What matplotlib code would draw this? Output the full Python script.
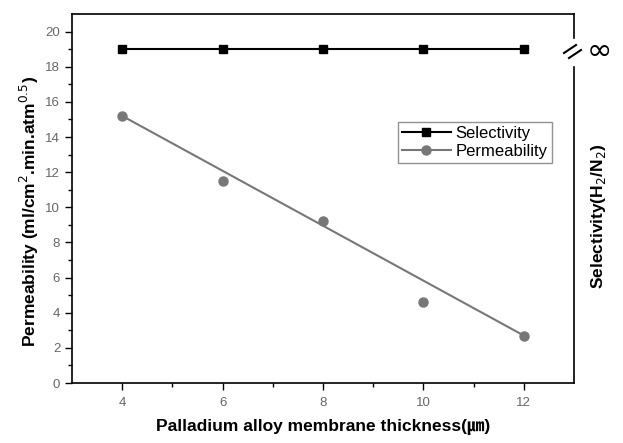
import matplotlib.pyplot as plt
from matplotlib.lines import Line2D

thickness = [4, 6, 8, 10, 12]
selectivity = [19, 19, 19, 19, 19]
permeability = [15.2, 11.5, 9.2, 4.6, 2.7]
fit_x = [4, 12]
fit_y = [15.2, 2.7]

plt.rcParams['font.family'] = ['Liberation Sans', 'Noto Sans CJK KR', 'DejaVu Sans']

W, H = 623, 443
fig = plt.figure(figsize=(W / 100, H / 100), dpi=100)
ax = fig.add_axes([72 / W, (H - 383) / H, (574 - 72) / W, (383 - 14) / H])


def px(x, y):
    return x / W, (H - y) / H


ax.plot(thickness, selectivity, color='black', lw=1.5, marker='s', ms=6,
        label='Selectivity')
ax.plot(fit_x, fit_y, color='#777777', lw=1.5)
ax.plot(thickness, permeability, color='#777777', lw=0, marker='o', ms=6.5)
# legend proxy for the gray line + marker
ax.plot([], [], color='#777777', lw=1.5, marker='o', ms=6.5, label='Permeability')

ax.set_xlim(3, 13)
ax.set_ylim(0, 21)
ax.set_xticks([4, 6, 8, 10, 12])
ax.set_xticks([5, 7, 9, 11], minor=True)
ax.set_yticks(range(0, 21, 2))
ax.set_yticks(range(1, 21, 2), minor=True)
ax.tick_params(which='both', direction='out', colors='black', labelcolor='#666666',
               labelsize=9.5, width=1)
ax.tick_params(which='major', length=5)
ax.tick_params(which='minor', length=3)
ax.tick_params(axis='x', pad=5)

for s in ['left', 'bottom', 'top']:
    ax.spines[s].set_linewidth(1.2)
ax.spines['right'].set_visible(False)

# right spine with axis break
for y0, y1 in [(14, 38), (67, 383)]:
    (xa, ya), (xb, yb) = px(574, y0), px(574, y1)
    fig.add_artist(Line2D([xa, xb], [ya, yb], color='black', lw=1.2))
for (x0, y0), (x1, y1) in [((564, 53), (576, 45)), ((569, 58), (581, 50))]:
    (xa, ya), (xb, yb) = px(x0, y0), px(x1, y1)
    fig.add_artist(Line2D([xa, xb], [ya, yb], color='black', lw=1.5))
fig.text(*px(598, 51), r'$\infty$', fontsize=22, ha='center', va='center')

ax.set_xlabel('Palladium alloy membrane thickness(㎛)', fontsize=12.5,
              fontweight='bold', labelpad=7)
fig.text(*px(29, 211), 'Permeability (ml/cm$^2$.min.atm$^{0.5}$)', fontsize=12.5,
         fontweight='bold', rotation=90, ha='center', va='center')
fig.text(*px(598, 216), 'Selectivity(H$_2$/N$_2$)', fontsize=12.5,
         fontweight='bold', rotation=90, ha='center', va='center')

leg = ax.legend(loc='upper left', bbox_to_anchor=((398 - 72) / 502, (383 - 122) / 369),
                fontsize=12, frameon=True, fancybox=False, handlelength=2.9,
                borderaxespad=0, borderpad=0.25, labelspacing=0.15, handletextpad=0.3)
leg.get_frame().set_edgecolor('#777777')
leg.get_frame().set_linewidth(1)

fig.savefig('out.png', dpi=100)
